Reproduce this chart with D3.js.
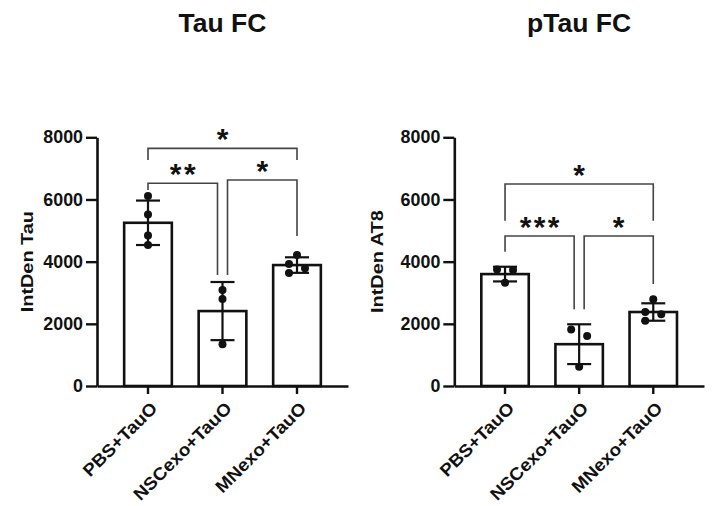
<!DOCTYPE html>
<html><head><meta charset="utf-8">
<script src="https://cdn.jsdelivr.net/npm/d3@7"></script>
<style>
body{margin:0;background:#fff}
text{font-family:"Liberation Sans",Arial,Helvetica,sans-serif;font-weight:bold;fill:#111}
</style>
</head><body>
<svg id="c" width="716" height="506"></svg>
<script>
// ---------- data ----------
const categories = ["PBS+TauO", "NSCexo+TauO", "MNexo+TauO"];
const yTickValues = [0, 2000, 4000, 6000, 8000];

const tauTitle = "Tau FC";
const tauYLabel = "IntDen Tau";
const tauMeans = [5250, 2410, 3890];
const tauSD = [715, 935, 250];
const tauPoints = [[6110, 5520, 4845, 4535], [3090, 2800, 1340], [3925, 4210, 3785, 3635]];
const tauJitter = [[0, 0, 0, 0], [0, 0, 0], [-1, 0, 1, -1]];
const tauPairs = [[0, 1], [1, 2], [0, 2]];
const tauBracketLevels = [6520, 6625, 7645];
const tauLegEnds = [[6305, 3570], [3570, 4825], [7270, 7270]];
const tauStars = ["**", "*", "*"];

const ptauTitle = "pTau FC";
const ptauYLabel = "IntDen AT8";
const ptauMeans = [3600, 1345, 2380];
const ptauSD = [236, 640, 280];
const ptauPoints = [[3750, 3730, 3320], [1820, 1610, 620], [2790, 2380, 2305, 2100]];
const ptauJitter = [[-1, 1, 0], [-1, 1, 0], [0, -1, 1, -1]];
const ptauPairs = [[0, 1], [1, 2], [0, 2]];
const ptauBracketLevels = [4825, 4825, 6500];
const ptauLegEnds = [[4320, 2465], [2465, 3280], [5315, 5315]];
const ptauStars = ["***", "*", "*"];

// ---------- drawing ----------
const svg = d3.select("#c");

function stretch(sel, factor) {
  sel.each(function () {
    const L = this.getComputedTextLength();
    d3.select(this).attr("textLength", L * factor).attr("lengthAdjust", "spacingAndGlyphs");
  });
}

function drawPanel(cfg) {
  const g = svg.append("g");
  const x = d3.scaleBand().domain(categories).range([cfg.x0, cfg.x1])
    .paddingInner(0.36).paddingOuter(0.3645);
  const y = d3.scaleLinear().domain([0, 8000]).range([cfg.yBot, cfg.yTop]);
  const bw = x.bandwidth();
  const cx = i => x(categories[i]) + bw / 2;

  // bars
  g.selectAll("rect.bar").data(cfg.means).join("rect")
    .attr("class", "bar")
    .attr("x", (d, i) => x(categories[i]))
    .attr("y", d => y(d))
    .attr("width", bw)
    .attr("height", d => y(0) - y(d))
    .attr("fill", "#fff").attr("stroke", "#111").attr("stroke-width", 2.6);

  // error bars
  const eb = g.append("g").attr("stroke", "#111").attr("stroke-width", 2.2);
  cfg.means.forEach((m, i) => {
    const c = cx(i), hi = y(m + cfg.sd[i]), lo = y(m - cfg.sd[i]);
    eb.append("line").attr("x1", c).attr("x2", c).attr("y1", hi).attr("y2", lo);
    eb.append("line").attr("x1", c - 12).attr("x2", c + 12).attr("y1", hi).attr("y2", hi);
    eb.append("line").attr("x1", c - 12).attr("x2", c + 12).attr("y1", lo).attr("y2", lo);
  });

  // points
  cfg.points.forEach((pts, i) => {
    g.selectAll(null).data(pts).join("circle")
      .attr("cx", (d, j) => cx(i) + cfg.jitter[i][j] * 8)
      .attr("cy", d => y(d))
      .attr("r", 4)
      .attr("fill", "#111");
  });

  // y axis
  const ya = g.append("g").attr("transform", `translate(${cfg.x0},0)`)
    .call(d3.axisLeft(y).tickValues(yTickValues).tickFormat(d3.format("d"))
      .tickSize(11).tickPadding(3).tickSizeOuter(0));
  ya.select(".domain").attr("stroke", "#111").attr("stroke-width", 2.6);
  ya.selectAll(".tick line").attr("stroke", "#111").attr("stroke-width", 2.4);
  ya.selectAll(".tick text").style("font-size", "17.5px").attr("fill", "#111")
    .style("font-family", '"Liberation Sans",Arial,sans-serif').style("font-weight", "bold")
    .call(stretch, 1.02);

  // x axis
  const xa = g.append("g").attr("transform", `translate(0,${cfg.yBot})`)
    .call(d3.axisBottom(x).tickSize(8).tickSizeOuter(0));
  xa.select(".domain").attr("stroke", "#111").attr("stroke-width", 2.6);
  xa.selectAll(".tick line").attr("stroke", "#111").attr("stroke-width", 2.4);
  xa.selectAll(".tick text")
    .style("font-size", "17.5px").attr("fill", "#111")
    .style("font-family", '"Liberation Sans",Arial,sans-serif').style("font-weight", "bold")
    .attr("text-anchor", "end")
    .attr("y", 0).attr("dy", "0.35em")
    .attr("transform", "translate(6,19) rotate(-45)")
    .call(stretch, 1.08);

  // y label
  g.append("text")
    .attr("transform", `translate(${cfg.x0 - cfg.ylabOff},${(cfg.yTop + cfg.yBot) / 2}) rotate(-90)`)
    .attr("text-anchor", "middle")
    .style("font-size", "17px")
    .text(cfg.yLabel)
    .call(stretch, 1.17);

  // title
  g.append("text")
    .attr("x", (cfg.x0 + cfg.x1) / 2).attr("y", 32)
    .attr("text-anchor", "middle")
    .style("font-size", "25px")
    .text(cfg.title)
    .call(stretch, 1.06);

  // significance brackets
  const br = g.append("g").attr("stroke", "#444").attr("stroke-width", 1.6).attr("fill", "none");
  const legX = (i, side) => {
    const mid = i > 0 && i < categories.length - 1;
    return cx(i) + (mid ? (side === "right" ? -5 : 5) : 0);
  };
  cfg.pairs.forEach((p, k) => {
    const xa_ = legX(p[0], "left"), xb_ = legX(p[1], "right");
    const yl_ = y(cfg.levels[k]);
    const path = d3.path();
    path.moveTo(xa_, y(cfg.legEnds[k][0]));
    path.lineTo(xa_, yl_);
    path.lineTo(xb_, yl_);
    path.lineTo(xb_, y(cfg.legEnds[k][1]));
    br.append("path").attr("d", path.toString());
    const fs = 30;
    g.append("text")
      .attr("x", (xa_ + xb_) / 2 + 1.2)
      .attr("y", yl_ - 16 + fs * 0.57)
      .attr("text-anchor", "middle")
      .style("font-size", fs + "px")
      .style("letter-spacing", "2.4px")
      .text(cfg.stars[k]);
  });
}

drawPanel({
  x0: 97, x1: 348, yTop: 137.3, yBot: 386, ylabOff: 64,
  title: tauTitle, yLabel: tauYLabel, means: tauMeans, sd: tauSD,
  points: tauPoints, jitter: tauJitter, pairs: tauPairs,
  levels: tauBracketLevels, legEnds: tauLegEnds, stars: tauStars
});
drawPanel({
  x0: 454.3, x1: 704, yTop: 137.3, yBot: 386, ylabOff: 71,
  title: ptauTitle, yLabel: ptauYLabel, means: ptauMeans, sd: ptauSD,
  points: ptauPoints, jitter: ptauJitter, pairs: ptauPairs,
  levels: ptauBracketLevels, legEnds: ptauLegEnds, stars: ptauStars
});
</script>
</body></html>
